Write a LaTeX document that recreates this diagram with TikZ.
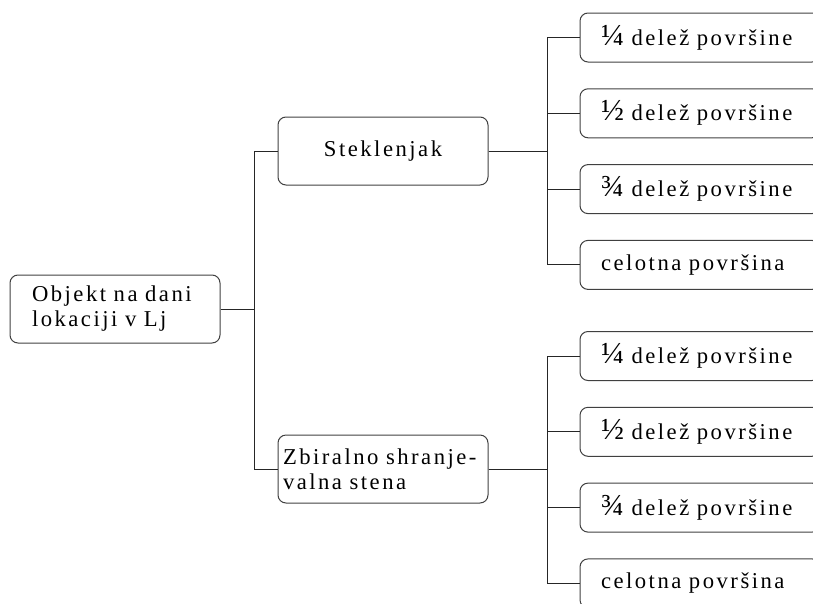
\documentclass[tikz,border=0pt]{standalone}
\usepackage{fontspec}
\setmainfont{Liberation Serif}[LetterSpace=11]

\newcommand{\bigfrac}[1]{\scalebox{1.35}{#1}}
\newcommand{\boxfont}{\fontsize{17}{18.75}\selectfont\fontdimen2\font=0.42em}

\begin{document}
\begin{tikzpicture}[x=0.75pt, y=-0.75pt,
  box/.style={draw=black!75, line width=0.75pt, rounded corners=6pt, inner ysep=2pt,
              minimum height=51pt, font=\boxfont},
  leaf/.style={box, minimum height=36.75pt, text width=148.5pt, inner xsep=15.75pt, align=left},
  link/.style={draw=black!85, line width=0.75pt},
]
\useasboundingbox (0,0) rectangle (813,603);

% Root
\node[box, text width=124.5pt, inner xsep=16.5pt, align=left] (root) at (115, 309)
  {Objekt na dani\\lokaciji v Lj};

% Two branches
\node[box, text width=150pt, inner xsep=3.75pt, align=center] (stek) at (383, 151) {Steklenjak};
\node[box, text width=150pt, inner xsep=3.75pt, align=left] (zbir) at (383, 469)
  {Zbiralno shranje-\\valna stena};

\draw[link] (root.east) -- +(34,0) |- (stek.west);
\draw[link] (root.east) -- +(34,0) |- (zbir.west);

% Leaves
\foreach \lbl [count=\i] in {\bigfrac{¼} delež površine, \bigfrac{½} delež površine,
                             \bigfrac{¾} delež površine, celotna površina} {
  \node[leaf] (s\i) at (700, {37.5+75.8*(\i-1)}) {\lbl};
  \draw[link] (stek.east) -- +(59,0) |- (s\i.west);
  \node[leaf] (z\i) at (700, {356+75.8*(\i-1)}) {\lbl};
  \draw[link] (zbir.east) -- +(59,0) |- (z\i.west);
}
\end{tikzpicture}
\end{document}
